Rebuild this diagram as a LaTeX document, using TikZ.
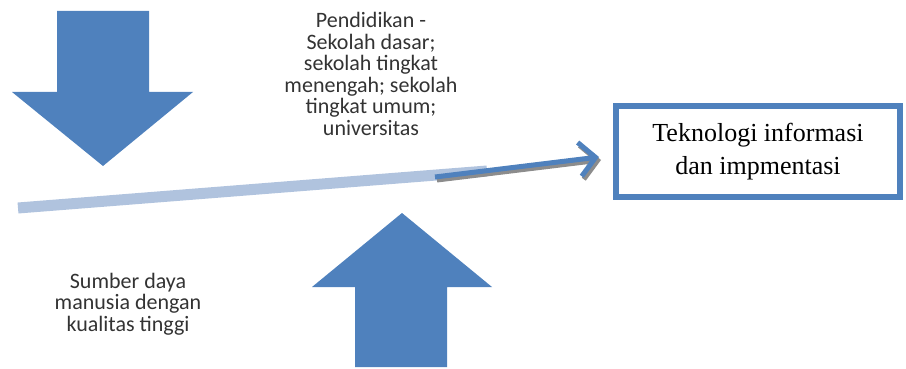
\documentclass[tikz,border=0pt]{standalone}
\usepackage{fontspec}
\setmainfont{Liberation Serif}
\newfontfamily\calib{Carlito}
\usetikzlibrary{arrows.meta}
\definecolor{ablue}{RGB}{79,129,189}
\definecolor{lblue}{RGB}{176,195,222}
\definecolor{shadowgray}{RGB}{140,140,140}
\tikzset{
  blockarrow/.style={fill=ablue, draw=none},
  label text/.style={font=\calib\fontsize{22}{21.6}\selectfont, align=center, text=black!80, inner sep=0pt},
  target box/.style={draw=ablue, line width=6pt, fill=white, minimum width=284pt, minimum height=91pt,
    align=center, font=\fontsize{26}{33}\selectfont, inner sep=0pt},
  flow/.style={line width=5pt, -{Straight Barb[length=16pt, width=34pt]}},
}
\begin{document}
\begin{tikzpicture}[x=1pt, y=-1pt]
  \useasboundingbox (0,0) rectangle (906,369);

  % downward block arrow
  \fill[blockarrow] (57,11) -- (149,11) -- (149,92) -- (193,92) -- (103,166)
    -- (12,92) -- (57,92) -- cycle;

  % upward block arrow
  \fill[blockarrow] (355,367) -- (447,367) -- (447,287) -- (492,287) -- (402,213)
    -- (312,287) -- (355,287) -- cycle;

  % target box
  \node[target box] (tik) at (758,151.5) {Teknologi informasi\\dan impmentasi};

  % texts
  \node[label text, anchor=north] (edu) at (371,12)
    {Pendidikan -\\Sekolah dasar;\\sekolah tingkat\\menengah; sekolah\\tingkat umum;\\universitas};
  \node[label text] (sdm) at (128,304)
    {Sumber daya\\manusia dengan\\kualitas tinggi};

  % pale rising band
  \coordinate (bandstart) at (18,208);
  \coordinate (bandend) at (487,171);
  \draw[lblue, line width=11pt] (bandstart) -- (bandend);

  % arrow into the box, with its shadow
  \coordinate (arrstart) at (435,177);
  \coordinate (arrend) at (599,157);
  \draw[flow, shadowgray] ([shift={(2,3)}]arrstart) -- ([shift={(2,3)}]arrend);
  \draw[flow, ablue] (arrstart) -- (arrend);
\end{tikzpicture}
\end{document}
